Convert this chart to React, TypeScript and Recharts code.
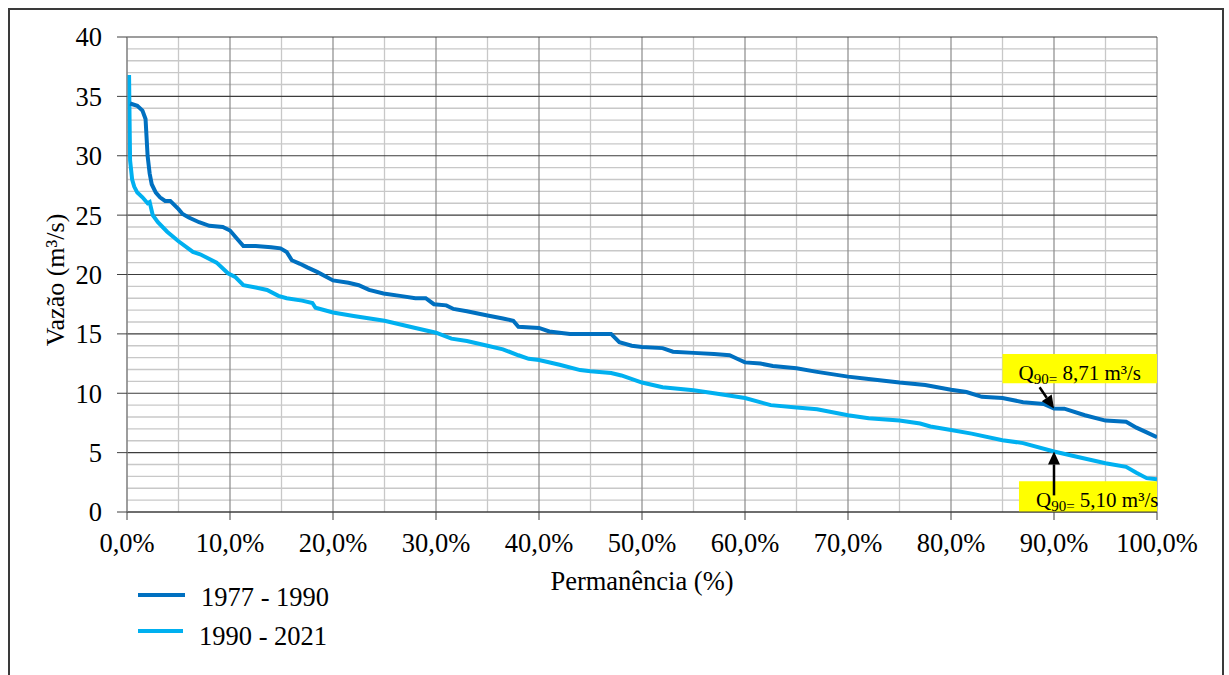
import {
  LineChart,
  Line,
  XAxis,
  YAxis,
  CartesianGrid,
  ReferenceArea,
  ReferenceLine,
} from "recharts";

// Curva de permanência — dois períodos
const permDark = [
  0.3, 1.0, 1.5, 1.8, 2.0, 2.2, 2.4, 2.8, 3.2, 3.7, 4.2, 5.0, 5.4, 6.0, 7.0, 8.0,
  9.3, 10.0, 10.6, 11.3, 12.5, 14.0, 14.9, 15.5, 16.0, 16.8, 17.5, 18.5, 20.0,
  21.5, 22.5, 23.5, 24.9, 26.5, 28.0, 29.0, 29.8, 31.0, 31.7, 33.0, 35.0, 36.5,
  37.5, 38.0, 40.0, 41.0, 43.0, 45.0, 47.0, 47.8, 49.0, 50.0, 52.0, 53.0, 55.0,
  57.0, 58.5, 59.5, 60.0, 61.5, 62.7, 65.0, 67.0, 70.0, 72.0, 75.0, 77.5, 80.0,
  81.5, 83.0, 85.0, 87.0, 89.0, 90.0, 91.0, 93.0, 95.0, 97.0, 98.0, 99.0, 100.0,
];
const qDark = [
  34.4, 34.2, 33.8, 33.1, 30.0, 28.5, 27.6, 26.9, 26.5, 26.2, 26.2, 25.5, 25.1,
  24.8, 24.4, 24.1, 24.0, 23.7, 23.1, 22.4, 22.4, 22.3, 22.2, 21.9, 21.2, 20.9,
  20.6, 20.2, 19.5, 19.3, 19.1, 18.7, 18.4, 18.2, 18.0, 18.0, 17.5, 17.4, 17.1,
  16.9, 16.55, 16.3, 16.1, 15.6, 15.5, 15.2, 15.0, 15.0, 15.0, 14.3, 14.0, 13.9,
  13.8, 13.5, 13.4, 13.3, 13.2, 12.8, 12.6, 12.5, 12.3, 12.1, 11.8, 11.4, 11.2,
  10.9, 10.7, 10.3, 10.1, 9.7, 9.6, 9.25, 9.1, 8.71, 8.7, 8.15, 7.7, 7.6, 7.1,
  6.7, 6.3,
];

const permLight = [
  0.2, 0.25, 0.3, 0.5, 0.7, 1.0, 1.5, 2.0, 2.2, 2.5, 3.0, 3.9, 5.0, 6.4, 7.1,
  8.0, 8.7, 9.8, 10.5, 11.3, 12.5, 13.6, 14.7, 15.5, 17.0, 18.0, 18.3, 20.0,
  22.0, 25.0, 28.0, 30.0, 31.5, 33.0, 35.0, 36.5, 38.0, 39.0, 40.0, 42.0, 44.0,
  45.0, 47.0, 48.0, 50.0, 52.0, 55.0, 57.0, 60.0, 62.5, 65.0, 67.0, 70.0, 72.0,
  75.0, 77.0, 78.0, 80.0, 82.0, 85.0, 87.0, 90.0, 92.0, 95.0, 97.0, 98.0, 99.0,
  100.0,
];
const qLight = [
  36.8, 33.0, 29.6, 28.0, 27.4, 26.9, 26.5, 26.0, 26.1, 25.0, 24.4, 23.6, 22.8,
  21.9, 21.7, 21.3, 21.0, 20.1, 19.8, 19.1, 18.9, 18.7, 18.2, 18.0, 17.8, 17.6,
  17.2, 16.8, 16.5, 16.1, 15.5, 15.1, 14.6, 14.4, 14.0, 13.7, 13.2, 12.9, 12.8,
  12.4, 11.95, 11.85, 11.7, 11.5, 10.9, 10.5, 10.25, 10.0, 9.6, 9.0, 8.8, 8.65,
  8.15, 7.9, 7.7, 7.45, 7.2, 6.9, 6.6, 6.05, 5.8, 5.1, 4.7, 4.1, 3.8, 3.3, 2.85,
  2.75,
];

const xTicks = [0, 10, 20, 30, 40, 50, 60, 70, 80, 90, 100];
const yTicks = [0, 5, 10, 15, 20, 25, 30, 35, 40];
const xMinor = [5, 15, 25, 35, 45, 55, 65, 75, 85, 95];
const yMinor = Array.from({ length: 41 }, (_, i) => i).filter((v) => v % 5 !== 0);

const q90Perm = 90;
const q90Dark = 8.71;
const q90Light = 5.1;

const darkData = permDark.map((p, i) => ({ p, q: qDark[i] }));
const lightData = permLight.map((p, i) => ({ p, q: qLight[i] }));

const W = 1229;
const H = 675;
const PLOT = { left: 127, top: 37, width: 1030, height: 475 };
const Y_MAX = 40;
const FONT = "Liberation Serif, serif";
const FS = 26.5;
const DARK = "#0070C0";
const LIGHT = "#00B0F0";

const yPx = (v: number) => PLOT.top + ((Y_MAX - v) / Y_MAX) * PLOT.height;
const xPx = (v: number) => PLOT.left + (v / 100) * PLOT.width;

const fmtPct = (v: number) => v.toFixed(1).replace(".", ",") + "%";

function boxLabel(value: string, dx: number) {
  return (props: any) => {
    const vb = props.viewBox || {};
    return (
      <text
        x={vb.x + dx}
        y={vb.y + 26}
        fontFamily={FONT}
        fontSize={21}
        fill="#000"
      >
        Q
        <tspan fontSize={15} dy={4}>
          90=
        </tspan>
        <tspan dy={-4}> {value} m³/s</tspan>
      </text>
    );
  };
}

function Arrow(props: any) {
  const { x1, y1, x2, y2 } = props;
  const dx = x2 - x1;
  const dy = y2 - y1;
  const len = Math.sqrt(dx * dx + dy * dy) || 1;
  const ux = dx / len;
  const uy = dy / len;
  const head = 13;
  const half = 6;
  const bx = x2 - ux * head;
  const by = y2 - uy * head;
  const pts = [
    `${x2},${y2}`,
    `${bx - uy * half},${by + ux * half}`,
    `${bx + uy * half},${by - ux * half}`,
  ].join(" ");
  return (
    <g>
      <line x1={x1} y1={y1} x2={bx} y2={by} stroke="#000" strokeWidth={2.5} />
      <polygon points={pts} fill="#000" />
    </g>
  );
}

const tickStyle = { fontSize: FS, fill: "#000", fontFamily: FONT };

export default function App() {
  return (
    <div
      style={{
        position: "absolute",
        left: 0,
        top: 0,
        width: W,
        height: H,
        background: "#fff",
        overflow: "hidden",
        fontFamily: FONT,
      }}
    >
      <div
        style={{
          position: "absolute",
          left: 8,
          top: 8,
          width: 1212,
          height: 700,
          border: "2px solid #3a3a3a",
          borderBottom: "none",
        }}
      />
      <div style={{ position: "absolute", left: 0, top: 0 }}>
        <LineChart
          width={W}
          height={H}
          margin={{ top: PLOT.top, right: W - PLOT.left - PLOT.width, bottom: H - PLOT.top - PLOT.height - 40, left: PLOT.left - 60 }}
        >
          <CartesianGrid
            stroke="#c8c8c8"
            strokeWidth={1.3}
            horizontalPoints={yMinor.map(yPx)}
            verticalPoints={xMinor.map(xPx)}
          />
          <CartesianGrid
            stroke="#8a8a8a"
            strokeWidth={1.2}
            horizontal={false}
            verticalPoints={xTicks.map(xPx)}
          />
          <CartesianGrid
            stroke="#3c3c3c"
            strokeWidth={1.2}
            vertical={false}
            horizontalPoints={yTicks.map(yPx)}
          />
          <XAxis
            type="number"
            dataKey="p"
            domain={[0, 100]}
            ticks={xTicks}
            tickFormatter={fmtPct}
            height={40}
            tickSize={8}
            tickMargin={13}
            axisLine={{ stroke: "#404040", strokeWidth: 1.2 }}
            tickLine={{ stroke: "#404040" }}
            tick={tickStyle}
            allowDataOverflow
          />
          <YAxis
            type="number"
            domain={[0, 40]}
            ticks={yTicks}
            width={60}
            tickSize={10}
            tickMargin={15}
            axisLine={{ stroke: "#8a8a8a", strokeWidth: 1.2 }}
            tickLine={{ stroke: "#404040" }}
            tick={tickStyle}
            allowDataOverflow
          />
          <Line
            data={lightData}
            dataKey="q"
            type="linear"
            stroke={LIGHT}
            strokeWidth={4}
            dot={false}
            isAnimationActive={false}
          />
          <Line
            data={darkData}
            dataKey="q"
            type="linear"
            stroke={DARK}
            strokeWidth={4}
            dot={false}
            isAnimationActive={false}
          />
          <ReferenceArea
            x1={85}
            x2={100}
            y1={10.85}
            y2={13.3}
            fill="#FFFF00"
            fillOpacity={1}
            stroke="none"
            label={{ content: boxLabel("8,71", 16) }}
          />
          <ReferenceArea
            x1={86.6}
            x2={100}
            y1={0}
            y2={2.6}
            fill="#FFFF00"
            fillOpacity={1}
            stroke="none"
            label={{ content: boxLabel("5,10", 17) }}
          />
          <ReferenceLine
            segment={[
              { x: 88.6, y: 10.5 },
              { x: q90Perm, y: q90Dark },
            ]}
            shape={Arrow}
          />
          <ReferenceLine
            segment={[
              { x: q90Perm, y: 1.4 },
              { x: q90Perm, y: q90Light },
            ]}
            shape={Arrow}
          />
        </LineChart>
      </div>
      <svg
        width={W}
        height={H}
        style={{ position: "absolute", left: 0, top: 0, pointerEvents: "none" }}
      >
        <text x={642} y={590} textAnchor="middle" fontFamily={FONT} fontSize={FS} fill="#000">
          Permanência (%)
        </text>
        <text
          x={64}
          y={280}
          textAnchor="middle"
          fontFamily={FONT}
          fontSize={26}
          fill="#000"
          transform="rotate(-90 64 280)"
        >
          Vazão (m³/s)
        </text>
        <line x1={138} y1={595} x2={185} y2={595} stroke={DARK} strokeWidth={4} />
        <text x={201} y={606} fontFamily={FONT} fontSize={FS} fill="#000">
          1977 - 1990
        </text>
        <line x1={138} y1={631} x2={183} y2={631} stroke={LIGHT} strokeWidth={4} />
        <text x={199} y={645} fontFamily={FONT} fontSize={FS} fill="#000">
          1990 - 2021
        </text>
      </svg>
    </div>
  );
}
